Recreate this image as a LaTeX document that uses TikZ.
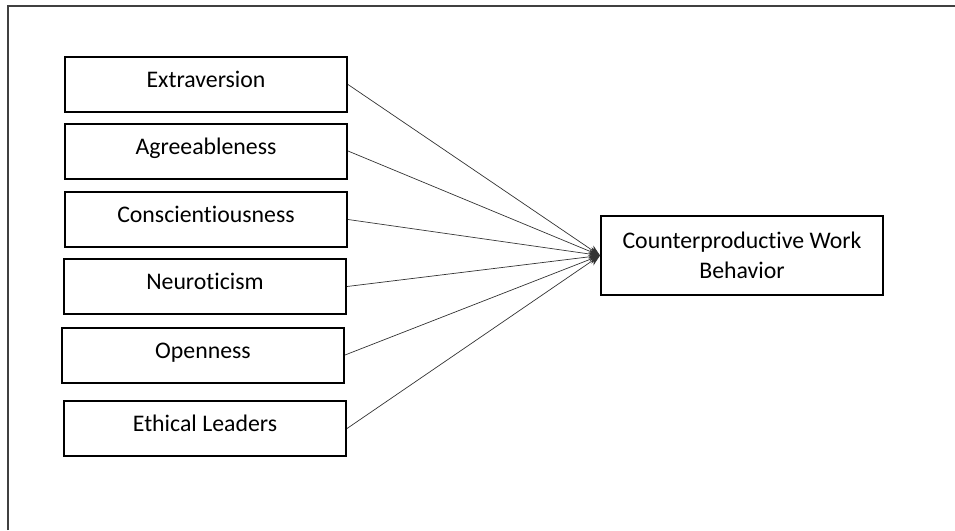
\documentclass[tikz,border=0pt]{standalone}
\usepackage{fontspec}
\setmainfont[Ligatures=NoCommon]{Carlito}
\usetikzlibrary{arrows.meta}
\tikzset{
  trait/.style={draw=black, line width=2pt, minimum width=282pt, minimum height=55pt,
    inner sep=0pt, text height=16pt, text depth=10pt, font=\fontsize{23.8}{30}\selectfont},
  outcome/.style={trait, minimum height=79pt, align=center, text height=, text depth=},
  path/.style={draw=black!80, line width=0.7pt, -{Stealth[length=11pt,width=9pt]}}
}
\begin{document}
\begin{tikzpicture}[x=1pt,y=-1pt]
      \useasboundingbox (0,0) rectangle (955,530);
      \draw[black!75, line width=1.5pt] (8,530) -- (8,6) -- (955,6);
      \draw
        (206,84.5) node[trait] (ext){Extraversion}
        (206,151) node[trait] (agr){Agreeableness}
        (206,219.5) node[trait] (con){Conscientiousness}
        (205,286.5) node[trait] (neu){Neuroticism}
        (203,355) node[trait] (ope){Openness}
        (205,428.5) node[trait] (eth){Ethical Leaders}
        (742,255.5) node[outcome] (cwb){Counterproductive Work\\Behavior};
      \begin{scope}[path]
        \draw (ext.east) to (cwb.west);
        \draw (agr.east) to (cwb.west);
        \draw (con.east) to (cwb.west);
        \draw (neu.east) to (cwb.west);
        \draw (ope.east) to (cwb.west);
        \draw (eth.east) to (cwb.west);
      \end{scope}
    \end{tikzpicture}
\end{document}
